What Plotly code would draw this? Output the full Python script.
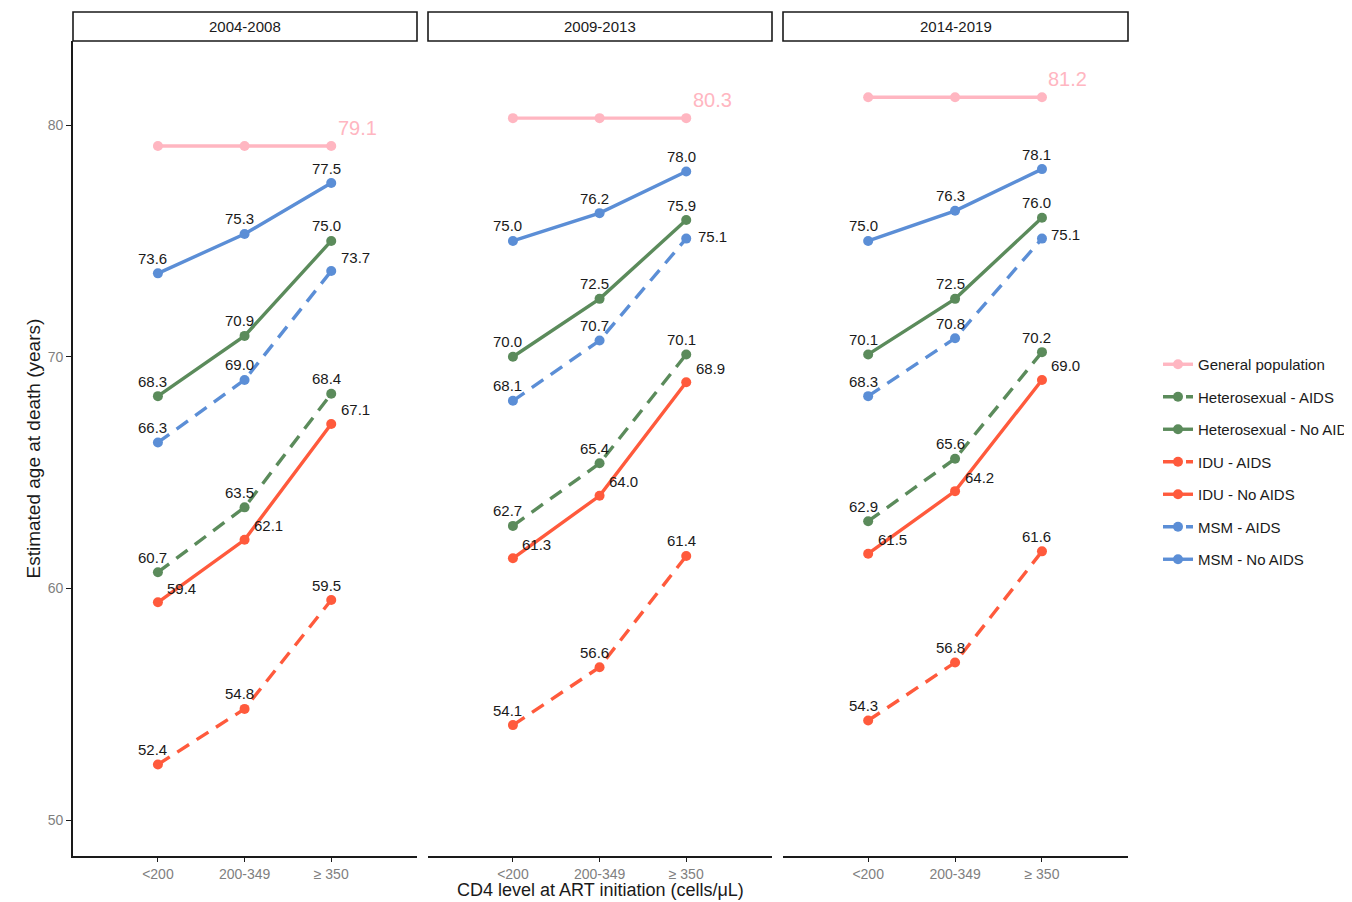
import plotly.graph_objects as go

# ---------------- data ----------------
periods = ["2004-2008", "2009-2013", "2014-2019"]
cd4_levels = ["<200", "200-349", "≥ 350"]

general_population = [79.1, 80.3, 81.2]

hetero_aids = [[60.7, 63.5, 68.4], [62.7, 65.4, 70.1], [62.9, 65.6, 70.2]]
hetero_no_aids = [[68.3, 70.9, 75.0], [70.0, 72.5, 75.9], [70.1, 72.5, 76.0]]
idu_aids = [[52.4, 54.8, 59.5], [54.1, 56.6, 61.4], [54.3, 56.8, 61.6]]
idu_no_aids = [[59.4, 62.1, 67.1], [61.3, 64.0, 68.9], [61.5, 64.2, 69.0]]
msm_aids = [[66.3, 69.0, 73.7], [68.1, 70.7, 75.1], [68.3, 70.8, 75.1]]
msm_no_aids = [[73.6, 75.3, 77.5], [75.0, 76.2, 78.0], [75.0, 76.3, 78.1]]

series_names = ["Heterosexual - AIDS", "Heterosexual - No AIDS", "IDU - AIDS",
                "IDU - No AIDS", "MSM - AIDS", "MSM - No AIDS"]
series_values = [hetero_aids, hetero_no_aids, idu_aids, idu_no_aids, msm_aids, msm_no_aids]

# ---------------- style ----------------
PINK = "#FFB6C1"
GREEN = "#5B8B5B"
RED = "#FF5A3C"
BLUE = "#5B8ED6"
series_colors = [GREEN, GREEN, RED, RED, BLUE, BLUE]
DASH = "14px,9px"
series_dash = [DASH, "solid", DASH, "solid", DASH, "solid"]

FONT = "Liberation Sans, Arial, sans-serif"
NARROW = "Liberation Sans Narrow, Arial Narrow, Liberation Sans, sans-serif"
DARK = "#1a1a1a"

# label placement: (xshift, yshift) in pixels
ABOVE = (-5, 15)
RIGHT = (24, 14)
label_pos = {
    "IDU - No AIDS": [[RIGHT] * 3] * 3,
    "MSM - AIDS": [[ABOVE, ABOVE, RIGHT], [ABOVE, ABOVE, (26, 2)], [ABOVE, ABOVE, (24, 4)]],
}

fig = go.Figure()

xaxes = ["x", "x2", "x3"]
yaxes = ["y", "y2", "y3"]
# page body has an 8px margin: offsets are chosen so the plot lands where the reference has it
W, H = 1352, 902
L, T = 65, 33
pw, ph = 1055, 815
R = W - L - pw
B = H - T - ph
domains = [[0, 344 / pw], [355 / pw, 699 / pw], [710 / pw, 1.0]]

annotations = []
shapes = []

for p, period in enumerate(periods):
    xa, ya = xaxes[p], yaxes[p]
    # general population
    fig.add_trace(go.Scatter(
        x=list(range(len(cd4_levels))), y=[general_population[p]] * len(cd4_levels),
        mode="lines+markers", name="General population", legendgroup="gp",
        showlegend=(p == 0), xaxis=xa, yaxis=ya,
        line=dict(color=PINK, width=3.4), marker=dict(color=PINK, size=10),
        hoverinfo="skip"))
    annotations.append(dict(
        x=len(cd4_levels) - 1, y=general_population[p], xref=xa, yref=ya,
        text=f"{general_population[p]:.1f}", showarrow=False,
        xshift=26, yshift=18, font=dict(family=FONT, size=20, color=PINK)))
    for s, name in enumerate(series_names):
        vals = series_values[s][p]
        fig.add_trace(go.Scatter(
            x=list(range(len(cd4_levels))), y=vals,
            mode="lines+markers", name=name, legendgroup=name,
            showlegend=(p == 0), xaxis=xa, yaxis=ya,
            line=dict(color=series_colors[s], width=3.4, dash=series_dash[s]),
            marker=dict(color=series_colors[s], size=10),
            hoverinfo="skip"))
        for i, v in enumerate(vals):
            dx, dy = ABOVE
            if name in label_pos:
                dx, dy = label_pos[name][p][i]
            annotations.append(dict(
                x=i, y=v, xref=xa, yref=ya, text=f"{v:.1f}", showarrow=False,
                xshift=dx, yshift=dy, font=dict(family=FONT, size=15, color=DARK)))
    # strip box
    shapes.append(dict(type="rect", xref=f"{xa} domain", yref="paper",
                       x0=0, x1=1, y0=1.0, y1=1 + 29 / ph,
                       line=dict(color=DARK, width=1.6), fillcolor="white"))
    annotations.append(dict(x=0.5, y=1 + 14.5 / ph, xref=f"{xa} domain", yref="paper",
                            text=period, showarrow=False, xanchor="center", yanchor="middle",
                            font=dict(family=FONT, size=15, color=DARK)))

yrange = [48.45, 83.63]
layout_axes = {}
for p in range(3):
    xkey = "xaxis" if p == 0 else f"xaxis{p+1}"
    ykey = "yaxis" if p == 0 else f"yaxis{p+1}"
    layout_axes[xkey] = dict(
        domain=domains[p], anchor=yaxes[p], range=[-0.98, 2.99],
        tickmode="array", tickvals=list(range(len(cd4_levels))), ticktext=cd4_levels,
        showgrid=False, zeroline=False, showline=True, linecolor=DARK, linewidth=1.6,
        ticks="outside", ticklen=4, tickcolor=DARK, tickwidth=1.2,
        tickfont=dict(family=NARROW, size=14, color="#7f7f7f"), fixedrange=True)
    layout_axes[ykey] = dict(
        domain=[0, 1], anchor=xaxes[p], range=yrange,
        tickvals=[50, 60, 70, 80], showgrid=False, zeroline=False,
        showline=(p == 0), linecolor=DARK, linewidth=1.6,
        ticks="outside" if p == 0 else "", ticklen=5, tickcolor=DARK, tickwidth=1.2,
        showticklabels=(p == 0),
        tickfont=dict(family=FONT, size=14, color="#7f7f7f"), fixedrange=True)
    if p > 0:
        layout_axes[ykey]["matches"] = "y"

annotations.append(dict(x=0.5, y=-34 / ph, xref="paper", yref="paper",
                        text="CD4 level at ART initiation (cells/μL)", showarrow=False,
                        xanchor="center", yanchor="middle",
                        font=dict(family=FONT, size=18, color=DARK)))
annotations.append(dict(x=-40 / pw, y=0.5, xref="paper", yref="paper",
                        text="Estimated age at death (years)", showarrow=False, textangle=-90,
                        xanchor="center", yanchor="middle",
                        font=dict(family=FONT, size=19, color=DARK)))

fig.update_layout(
    width=W, height=H,
    margin=dict(l=L, r=R, t=T, b=B, autoexpand=False),
    paper_bgcolor="white", plot_bgcolor="white",
    font=dict(family=FONT),
    annotations=annotations, shapes=shapes,
    showlegend=True,
    legend=dict(x=(1158 - 8 - L) / pw, xanchor="left", y=1 - (462 - 8 - T) / ph, yanchor="middle",
                traceorder="grouped", tracegroupgap=10, itemwidth=30,
                font=dict(family=FONT, size=15, color=DARK), bgcolor="rgba(0,0,0,0)"),
    **layout_axes,
)

fig.write_html("out.html")
